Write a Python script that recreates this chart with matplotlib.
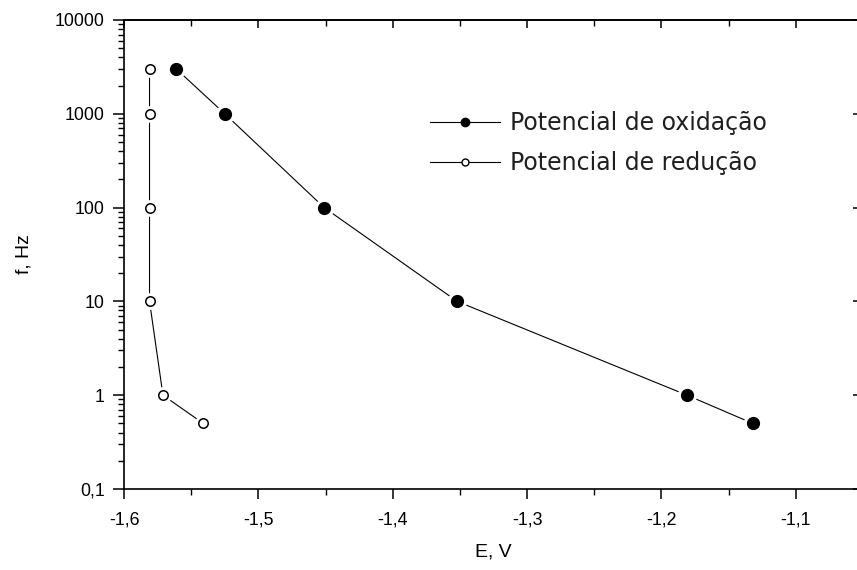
import matplotlib
matplotlib.use("Agg")
import matplotlib.pyplot as plt
from matplotlib.lines import Line2D
from matplotlib.ticker import FixedLocator, LogLocator, NullFormatter, MultipleLocator

# Data
E_ox = [-1.561, -1.525, -1.451, -1.352, -1.181, -1.132]
f_ox = [3000, 1000, 100, 10, 1, 0.5]
E_red = [-1.581, -1.581, -1.581, -1.581, -1.571, -1.541]
f_red = [3000, 1000, 100, 10, 1, 0.5]

xticks = [-1.6, -1.5, -1.4, -1.3, -1.2, -1.1]
xticklabels = ["-1,6", "-1,5", "-1,4", "-1,3", "-1,2", "-1,1"]
yticks = [0.1, 1, 10, 100, 1000, 10000]
yticklabels = ["0,1", "1", "10", "100", "1000", "10000"]
labels = ["Potencial de oxidação", "Potencial de redução"]

W, H = 857, 570
fig = plt.figure(figsize=(W / 100, H / 100), dpi=100)
left, right, top, bottom = 124, 863, 20, 489
ax = fig.add_axes([left / W, (H - bottom) / H, (right - left) / W, (bottom - top) / H])

lw = 0.8
# lines
ax.plot(E_ox, f_ox, color="black", lw=lw, zorder=2)
ax.plot(E_red, f_red, color="black", lw=lw, zorder=2)
# white halos for gaps
ax.plot(E_ox, f_ox, ls="none", marker="o", ms=13, mfc="white", mec="white", zorder=3)
ax.plot(E_red, f_red, ls="none", marker="o", ms=11, mfc="white", mec="white", zorder=3)
# markers
ax.plot(E_ox, f_ox, ls="none", marker="o", ms=8.5, mfc="black", mec="black", zorder=4)
ax.plot(E_red, f_red, ls="none", marker="o", ms=6.8, mfc="white", mec="black", mew=1.1, zorder=4)

ax.set_yscale("log")
ax.set_xlim(-1.6, -1.05)
ax.set_ylim(0.1, 10000)

tick_font = dict(family="Liberation Sans", size=12.8)
ax.xaxis.set_major_locator(FixedLocator(xticks))
ax.set_xticklabels(xticklabels, fontdict=tick_font)
ax.xaxis.set_minor_locator(MultipleLocator(0.05))
ax.yaxis.set_major_locator(FixedLocator(yticks))
ax.set_yticklabels(yticklabels, fontdict=tick_font)
ax.yaxis.set_minor_locator(LogLocator(base=10, subs=range(2, 10), numticks=20))
ax.yaxis.set_minor_formatter(NullFormatter())

ax.tick_params(which="major", direction="out", length=8, width=1.1, pad=6)
ax.tick_params(which="minor", direction="out", length=4.5, width=1.0)
ax.tick_params(axis="x", which="major", length=7, pad=9)

for sp in ax.spines.values():
    sp.set_linewidth(1.2)

# top axis (inward ticks, no labels)
secx = ax.secondary_xaxis("top")
secx.xaxis.set_major_locator(FixedLocator(xticks))
secx.xaxis.set_minor_locator(MultipleLocator(0.05))
secx.set_xticklabels([])
secx.tick_params(which="major", direction="in", length=6, width=1.1)
secx.tick_params(which="minor", direction="in", length=4, width=1.0)
secx.spines["top"].set_linewidth(1.2)

secy = ax.secondary_yaxis("right")
secy.set_yscale("log")
secy.yaxis.set_major_locator(FixedLocator(yticks))
secy.yaxis.set_minor_locator(FixedLocator([]))
secy.set_yticklabels([])
secy.tick_params(which="major", direction="in", length=7, width=1.1)
secy.spines["right"].set_linewidth(1.2)

ax.set_xlabel("E, V", family="Liberation Sans", fontsize=14, labelpad=11)
ax.set_ylabel("f, Hz", family="Liberation Sans", fontsize=14, labelpad=16)

handles = [
    Line2D([], [], color="black", lw=lw, marker="o", ms=6, mfc="black", mec="black"),
    Line2D([], [], color="black", lw=lw, marker="o", ms=5, mfc="white", mec="black"),
]
leg = ax.legend(handles, labels, loc="upper left", bbox_to_anchor=(430 / W, 1 - 111 / H),
                bbox_transform=fig.transFigure, frameon=False,
                prop=dict(family="DejaVu Sans", size=17), handlelength=2.97,
                handletextpad=0.42, labelspacing=0.67, borderpad=0, borderaxespad=0)
for t in leg.get_texts():
    t.set_color("#202020")

fig.savefig("out.png", dpi=100)
